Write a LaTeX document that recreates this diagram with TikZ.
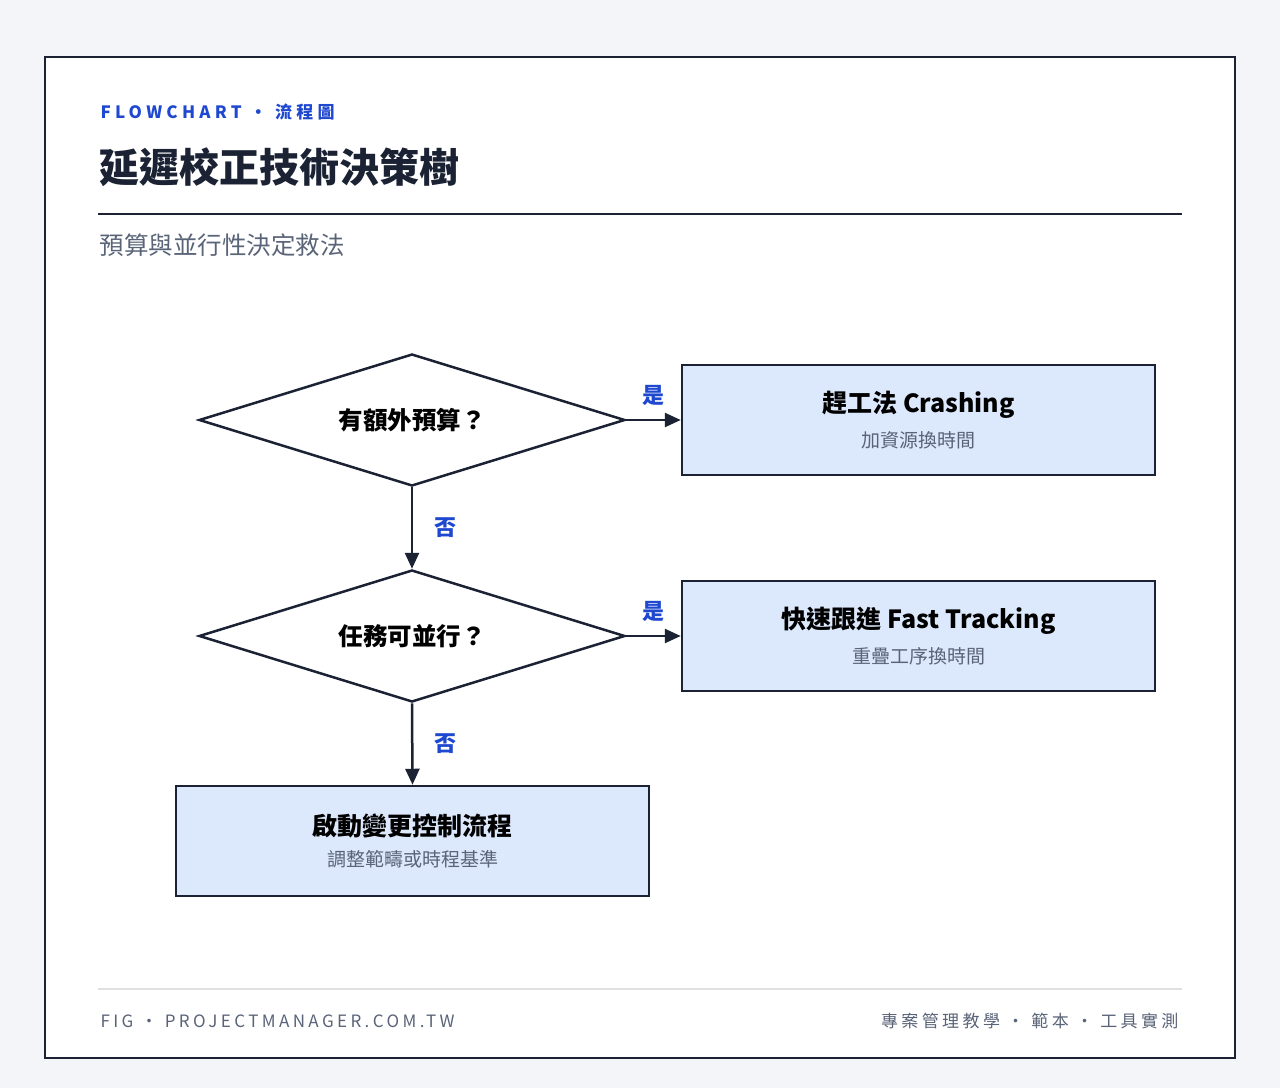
\documentclass[tikz,border=0pt]{standalone}
\usepackage{fontspec}
\setmainfont{Noto Sans CJK TC}
\usetikzlibrary{arrows.meta,shapes.geometric,positioning}
\definecolor{ink}{HTML}{1A2233}
\definecolor{accent}{HTML}{1F48D0}
\definecolor{muted}{HTML}{5A6478}
\definecolor{boxfill}{HTML}{DCE8FB}
\definecolor{page}{HTML}{F3F5F9}
\tikzset{
	decision/.style={diamond,aspect=3.23,draw=ink,line width=2.5pt,fill=white,minimum width=426pt,minimum height=132pt,inner sep=0pt,font=\fontsize{24.5}{28}\selectfont\bfseries},
	action/.style={rectangle,draw=ink,line width=2.5pt,fill=boxfill,minimum width=473pt,minimum height=110pt},
	flow/.style={-{Triangle[width=14pt,length=16pt]},draw=ink,line width=2.5pt},
	answer/.style={text=accent,font=\fontsize{22}{26}\selectfont\bfseries}
}
\newcommand{\actlabel}[2]{{\fontsize{25}{30}\selectfont\bfseries #1}\\[12pt]{\fontsize{19}{24}\selectfont\color{muted}#2}}
\begin{document}
\begin{tikzpicture}[x=1pt,y=-1pt]
		\useasboundingbox (0,0) rectangle (1280,1088);
		\fill[page] (0,0) rectangle (1280,1088);
		\draw[ink,fill=white,line width=2pt] (45,57) rectangle (1235,1058);
		%%%header
		\node[anchor=west,text=accent,font=\fontsize{17}{20}\selectfont\bfseries\addfontfeature{LetterSpace=25}] (kicker) at (97,112) {FLOWCHART · 流程圖};
		\node[anchor=west,text=ink,font=\fontsize{40}{46}\selectfont\bfseries] (title) at (96,167) {延遲校正技術決策樹};
		\draw[ink,line width=2pt] (98,214) -- (1182,214);
		\node[anchor=west,text=muted,font=\fontsize{24.5}{28}\selectfont] (subtitle) at (96,245) {預算與並行性決定救法};
		
		%%%chart
		\node[decision] (budget) at (412,420) {有額外預算？};
		\node[decision] (parallel) at (412,636) {任務可並行？};
		\node[action,align=center] (crash) at (918.5,420) {\actlabel{趕工法 Crashing}{加資源換時間}};
		\node[action,align=center] (track) at (918.5,636) {\actlabel{快速跟進 Fast Tracking}{重疊工序換時間}};
		\node[action,align=center] (change) at (412.5,841) {\actlabel{啟動變更控制流程}{調整範疇或時程基準}};
		
		\draw[flow] (budget.east) -- node[answer,above=10pt] {是} (crash.west);
		\draw[flow] (budget.south) -- node[answer,right=18pt] {否} (parallel.north);
		\draw[flow] (parallel.east) -- node[answer,above=10pt] {是} (track.west);
		\draw[flow] (parallel.south) -- node[answer,right=18pt] {否} (change.north);
		
		%%%footer
		\draw[black!12,line width=1.5pt] (98,989) -- (1182,989);
		\node[anchor=west,text=muted,font=\fontsize{17}{20}\selectfont\addfontfeature{LetterSpace=20}] (fig) at (97,1021) {FIG · PROJECTMANAGER.COM.TW};
		\node[anchor=east,text=muted,font=\fontsize{17}{20}\selectfont\addfontfeature{LetterSpace=20}] (tags) at (1182,1021) {專案管理教學 · 範本 · 工具實測};
	\end{tikzpicture}
\end{document}
